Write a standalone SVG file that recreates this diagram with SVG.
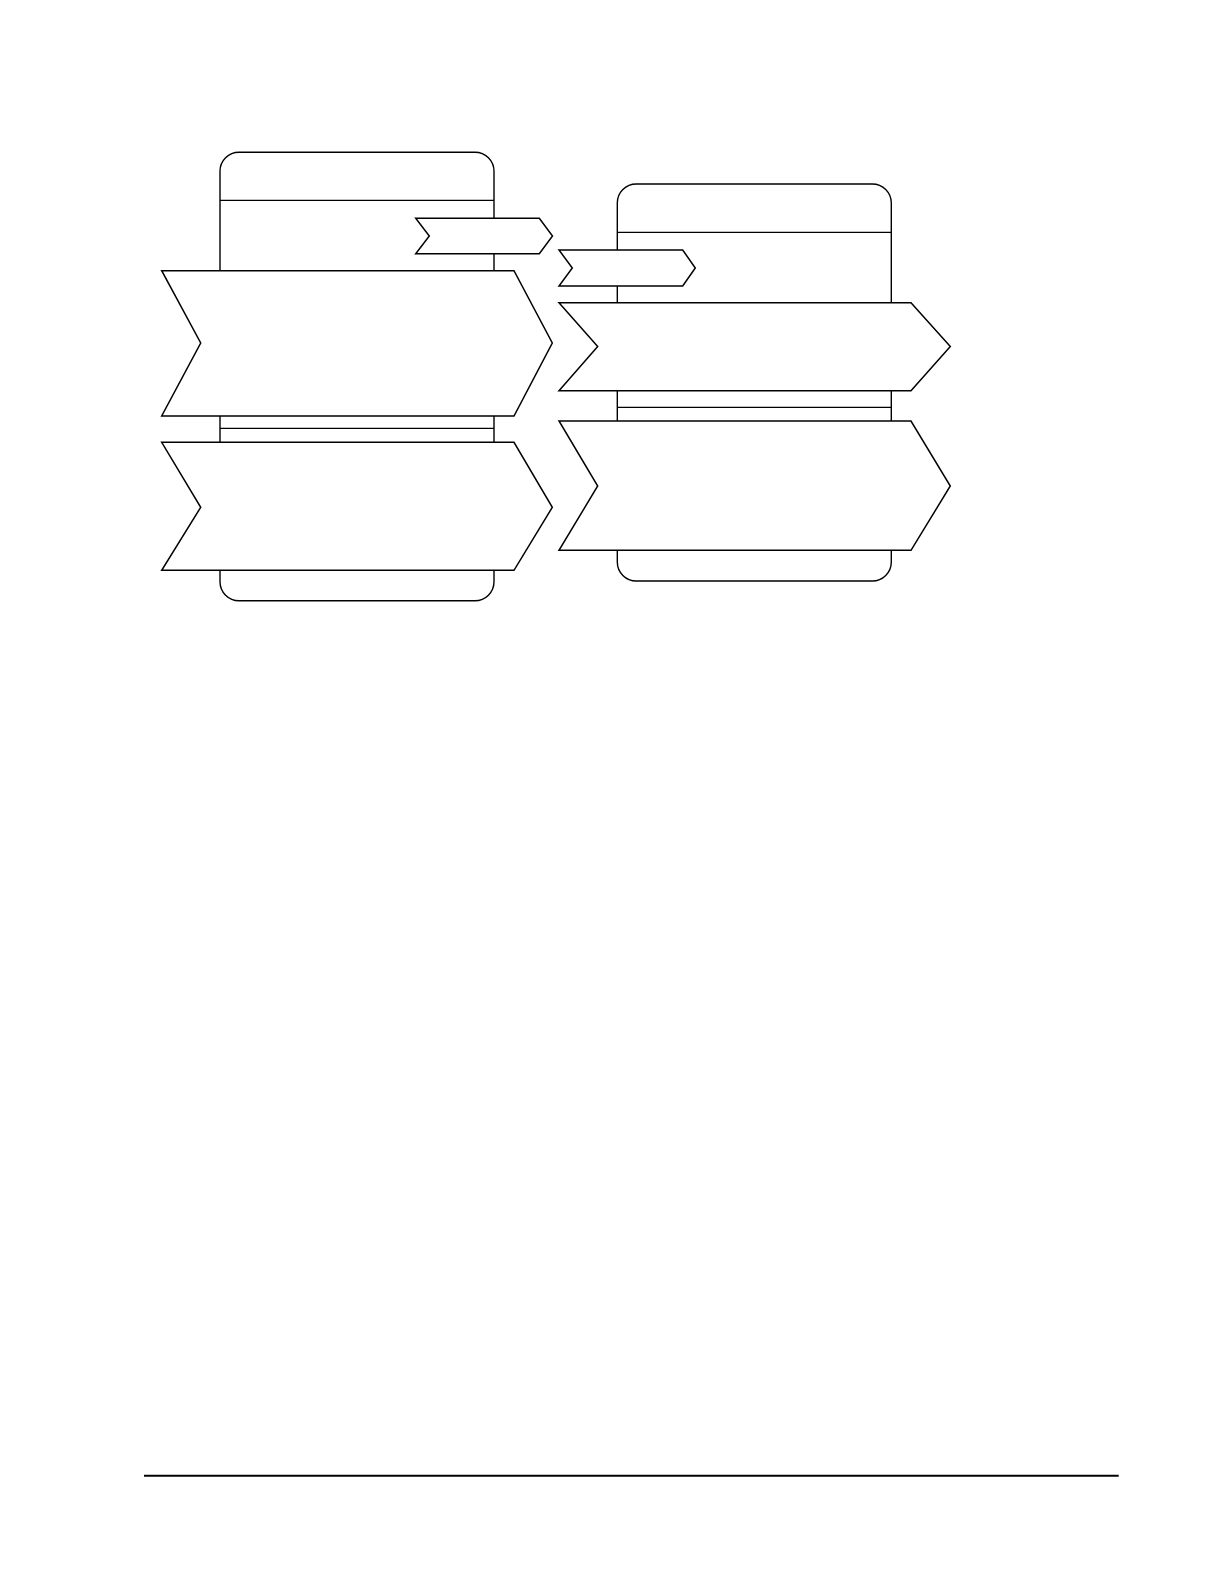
<svg xmlns="http://www.w3.org/2000/svg" width="1224" height="1584" viewBox="0 0 1224 1584">
<style>
.panel{fill:#fff;stroke:#000;stroke-width:1.4}
.div{stroke:#000;stroke-width:1.3;fill:none}
.chev{fill:#fff;stroke:#000;stroke-width:1.5;stroke-linejoin:miter}
</style>
<rect width="1224" height="1584" fill="#fff"/>
<g id="panel-left">
<rect class="panel" x="220" y="152.3" width="274" height="448.4" rx="19" ry="19"/>
<line class="div" x1="220" y1="200.3" x2="494" y2="200.3"/>
<line class="div" x1="220" y1="428.3" x2="494" y2="428.3"/>
</g>
<g id="panel-right">
<rect class="panel" x="617.3" y="184" width="274" height="397" rx="19" ry="19"/>
<line class="div" x1="617.3" y1="232.3" x2="891.3" y2="232.3"/>
<line class="div" x1="617.3" y1="407.3" x2="891.3" y2="407.3"/>
</g>
<g id="connectors">
<polygon id="small-chevron-left" class="chev" points="415.7,218.3 539.3,218.3 552.5,236 539.3,253.7 415.7,253.7 429.3,236"/>
<polygon id="small-chevron-right" class="chev" points="559,250 682.7,250 695.3,268 682.7,286 559,286 572.3,268"/>
</g>
<g id="chevron-left-1">
<polygon class="chev" points="161.7,270.7 514,270.7 552.3,343 514,416 161.7,416 200.7,343"/>
</g>
<g id="chevron-left-2">
<polygon class="chev" points="161.7,442.3 514,442.3 552.3,507.3 514,570.3 161.7,570.3 200.7,507.3"/>
</g>
<g id="chevron-right-1">
<polygon class="chev" points="559,302.7 911,302.7 950.3,346.5 911,390.7 559,390.7 597.7,346.5"/>
</g>
<g id="chevron-right-2">
<polygon class="chev" points="559,421 911,421 950.3,486 911,550.3 559,550.3 597.7,486"/>
</g>
<line x1="144" y1="1475.7" x2="1118.7" y2="1475.7" stroke="#000" stroke-width="2"/>
</svg>
